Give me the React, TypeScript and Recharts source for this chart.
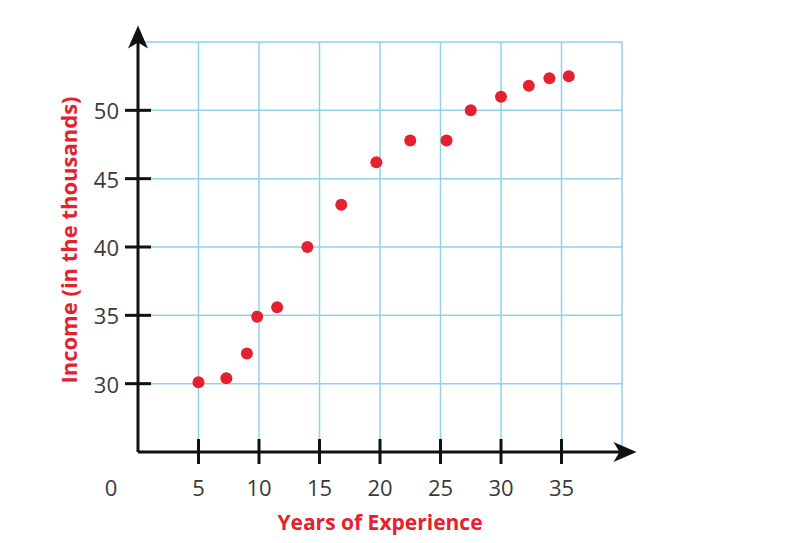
import { ScatterChart, Scatter, XAxis, YAxis, CartesianGrid, ReferenceLine, ReferenceDot } from 'recharts';

// years of experience vs income (thousands)
const years = [5, 7.3, 9, 9.85, 11.5, 14, 16.8, 19.7, 22.5, 25.5, 27.5, 30, 32.3, 34, 35.6];
const income = [30.1, 30.4, 32.2, 34.9, 35.6, 40, 43.1, 46.2, 47.8, 47.8, 50, 51, 51.8, 52.35, 52.5];
const xTicks = [0, 5, 10, 15, 20, 25, 30, 35, 40];
const yTicks = [25, 30, 35, 40, 45, 50, 55];

const points = years.map((x, i) => ({ x, y: income[i] }));

const RED = '#e4222f';
const GRID = '#8fd2ea';
const TEXT = '#3a3a3a';
const FONT = '"Open Sans", sans-serif';

const XTick = (props: any) => {
  const { x, y, payload } = props;
  const v = payload.value;
  if (v === 40) return null;
  if (v === 0) {
    return (
      <text x={x - 27} y={y + 35} textAnchor="middle" dominantBaseline="central" fill={TEXT} fontSize={22} fontFamily={FONT}>
        0
      </text>
    );
  }
  return (
    <g>
      <line x1={x} x2={x} y1={y - 13} y2={y + 12} stroke="#111" strokeWidth={3} />
      <text x={x} y={y + 35} textAnchor="middle" dominantBaseline="central" fill={TEXT} fontSize={22} fontFamily={FONT}>
        {v}
      </text>
    </g>
  );
};

const YTick = (props: any) => {
  const { x, y, payload } = props;
  const v = payload.value;
  if (v === 25 || v === 55) return null;
  return (
    <g>
      <line x1={x - 13} x2={x + 13} y1={y} y2={y} stroke="#111" strokeWidth={3} />
      <text x={x - 19} y={y} textAnchor="end" dominantBaseline="central" fill={TEXT} fontSize={22} fontFamily={FONT}>
        {v}
      </text>
    </g>
  );
};

const RightArrow = (props: any) => {
  const { cx, cy } = props;
  return <path d={`M${cx},${cy} L${cx - 23},${cy - 10} L${cx - 17},${cy} L${cx - 23},${cy + 10} Z`} fill="#111" />;
};

const UpArrow = (props: any) => {
  const { cx, cy } = props;
  return <path d={`M${cx},${cy} L${cx - 10},${cy + 23} L${cx},${cy + 17} L${cx + 10},${cy + 23} Z`} fill="#111" />;
};

const Dot = (props: any) => <circle cx={props.cx} cy={props.cy} r={6} fill={RED} />;

export default function App() {
  return (
    <ScatterChart width={784} height={535} margin={{ top: 34, right: 170, bottom: 61, left: 70 }}>
      <CartesianGrid stroke={GRID} strokeWidth={1.5} />
      <XAxis
        type="number"
        dataKey="x"
        domain={[0, 40]}
        ticks={xTicks}
        height={30}
        axisLine={false}
        tickLine={false}
        tickSize={0}
        tickMargin={0}
        tick={<XTick />}
        interval={0}
      />
      <YAxis
        type="number"
        dataKey="y"
        domain={[25, 55]}
        ticks={yTicks}
        width={60}
        axisLine={false}
        tickLine={false}
        tickSize={0}
        tickMargin={0}
        tick={<YTick />}
        interval={0}
      />
      <ReferenceLine segment={[{ x: 0, y: 25 }, { x: 40.5, y: 25 }]} stroke="#111" strokeWidth={3} ifOverflow="visible" />
      <ReferenceLine segment={[{ x: 0, y: 25 }, { x: 0, y: 55.5 }]} stroke="#111" strokeWidth={3} ifOverflow="visible" />
      <ReferenceDot x={41.2} y={25} ifOverflow="visible" shape={<RightArrow />} />
      <ReferenceDot x={0} y={56.2} ifOverflow="visible" shape={<UpArrow />} />
      <Scatter data={points} shape={<Dot />} isAnimationActive={false} />
      <text x={372} y={514} textAnchor="middle" dominantBaseline="central" fill={RED} fontSize={21} fontWeight="bold" fontFamily={FONT}>
        Years of Experience
      </text>
      <text
        x={60}
        y={232}
        textAnchor="middle"
        dominantBaseline="central"
        fill={RED}
        fontSize={22}
        fontWeight="bold"
        fontFamily={FONT}
        transform="rotate(-90 60 232)"
      >
        Income (in the thousands)
      </text>
    </ScatterChart>
  );
}
